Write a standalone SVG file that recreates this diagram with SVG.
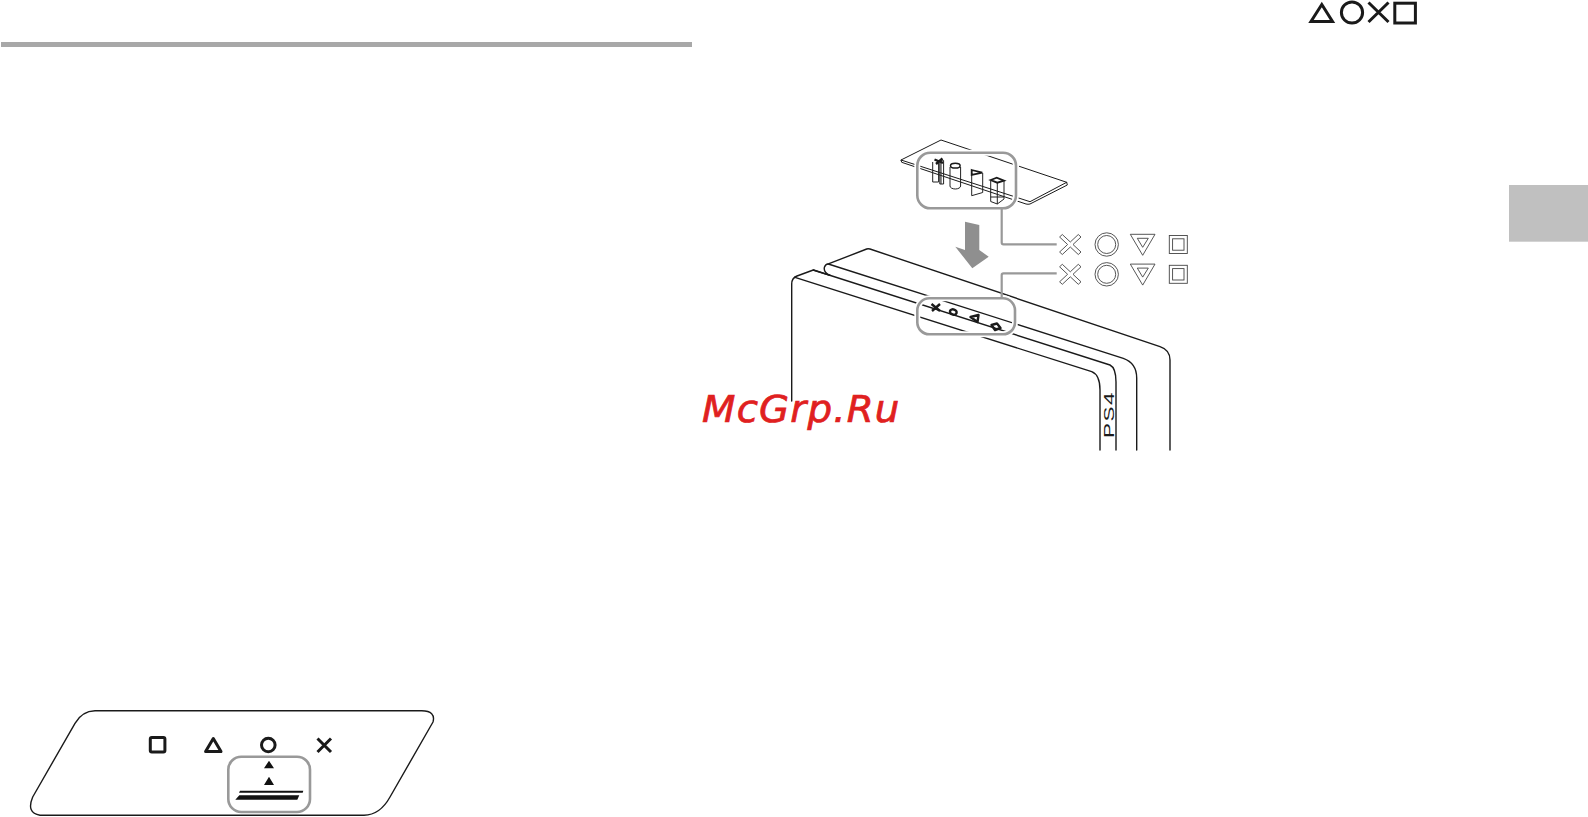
<svg xmlns="http://www.w3.org/2000/svg" width="1588" height="817" viewBox="0 0 1588 817">
<style>
.ln{fill:none;stroke:#1a1a1a;stroke-width:1.4;stroke-linejoin:round;stroke-linecap:round}
.pl{fill:none;stroke:#1a1a1a;stroke-width:1;stroke-linejoin:round;stroke-linecap:round}
.thin{fill:#fff;stroke:#444;stroke-width:.9;stroke-linejoin:miter}
.pin{fill:none;stroke:#222;stroke-width:1;stroke-linejoin:miter}
.box{fill:none;stroke:#999;stroke-width:2.6}
.halo{fill:none;stroke:#fff;stroke-width:6}
.conn{fill:none;stroke:#999;stroke-width:2.2;stroke-linejoin:round}
.sym{fill:none;stroke:#1a1a1a;stroke-width:3;stroke-linejoin:round}
.mini{fill:none;stroke:#1a1a1a;stroke-width:2.4;stroke-linejoin:round}
</style>
<rect width="1588" height="817" fill="#fff"/>
<rect id="top-rule" x="1" y="42" width="691" height="5" fill="#a8a8a8"/>
<rect id="side-tab" x="1509" y="185" width="79" height="56.7" fill="#c0c0c0"/>
<g id="title-symbols" fill="none" stroke="#1a1a1a" stroke-width="3">
<path d="M1321.8 4.5 L1332.5 21.4 H1311 Z"/>
<circle cx="1352" cy="12.5" r="10.6"/>
<path d="M1368.5 2.5 L1388.5 22 M1388.5 2.5 L1368.5 22"/>
<rect x="1394.8" y="3.2" width="20.6" height="19.8"/>
</g>
<g id="device">
<path class="ln" d="M791.7 401 V284 Q791.7 278 797 276 L813.3 270 L830 275.3"/>
<path class="ln" d="M795 277.3 L1091.7 371.7 Q1100 375 1100 390 V450"/>
<path class="ln" d="M813.3 270 L1110 365 Q1116 368 1116 382 V450"/>
<path class="ln" d="M830 275.3 Q823 272 824.5 267 Q825.5 264 829 263.7 L866.7 249 Q868 248.5 870 249 L1160 346.7 Q1170 350 1170 360 V450"/>
<path class="ln" d="M828.3 264 L1123.3 358.3 Q1136.7 363 1136.7 378 V450"/>
<text id="ps4-logo" transform="translate(1114 438) rotate(-90) scale(1.5 1)" font-family="'Liberation Sans',Arial,sans-serif" font-size="15" letter-spacing="1" fill="#1a1a1a">PS4</text>
</g>
<g id="device-callout">
<rect class="halo" x="917.3" y="298.3" width="97.7" height="36" rx="12"/>
<path class="mini" d="M931.5 304 L940 311 M940 304 L932 311"/>
<ellipse class="mini" cx="953.3" cy="312" rx="3.4" ry="2.6" transform="rotate(18 953.3 312)"/>
<path class="mini" d="M970.5 317 L978.5 315 L977.5 322 Z"/>
<path class="mini" d="M991.5 325 L997 323.5 L1000.5 328 L995 330 Z"/>
<rect class="box" x="917.3" y="298.3" width="97.7" height="36" rx="12"/>
</g>
<g id="plate">
<path class="pl" d="M901 160 L941 140 L1066.7 182.3 L1030 201.7 L901 160 L901.7 162.3 L1026 204 Q1028 204.5 1030 204 L1067.3 185 L1066.7 182.3"/>
<rect class="halo" x="917.3" y="152.7" width="98.7" height="55.6" rx="13"/>
<g id="pins">
<path class="pin" d="M932.7 162 V182 H938.6 V162 M938.6 162 L943.6 160.5 V184 H939.8 V163 M941 184 V160"/>
<path class="mini" stroke-width="2" d="M934.5 159.5 L943 163 M942.5 158.5 L936 164"/>
<path class="pin" d="M950 167 V186 A5.3 3 0 0 0 960.6 186 V167"/>
<ellipse cx="955.3" cy="165.7" rx="4.8" ry="2.4" fill="#fff" stroke="#1a1a1a" stroke-width="1.5"/>
<path class="pin" d="M971.7 175 V195.7 L982.7 192.5 V173"/>
<path d="M971.7 170 L982.3 172.7 L971.7 175 Z" fill="#fff" stroke="#1a1a1a" stroke-width="1.8"/>
<path class="pin" d="M990.7 181 V201.5 L997.3 204 L1004 199 V181 M997.3 183 V204 M990.7 197 L1004 197"/>
<path d="M990.7 180 L996.7 177.7 L1004 180.7 L997.3 182.7 Z" fill="#fff" stroke="#1a1a1a" stroke-width="1.8"/>
</g>
<rect class="box" x="917.3" y="152.7" width="98.7" height="55.6" rx="13"/>
</g>
<g id="down-arrow"><path d="M965 221.7 L979.3 225 V250 L988.7 256.7 L972.3 268.3 L955.3 246.7 L965 250 Z" fill="#8f8f8f"/></g>
<g id="connectors">
<path class="conn" d="M1001.7 208 V242.5 Q1001.7 244.3 1003.5 244.3 H1056.7"/>
<path class="conn" d="M1056.7 273.3 H1003.5 Q1001.7 273.3 1001.7 275 V298"/>
</g>
<defs>
<g id="sym-row">
<path class="thin" d="M1062.3 234.5 L1070.3 242 L1078.3 234.5 L1081 237 L1073 244.5 L1081 252 L1078.3 254.5 L1070.3 247 L1062.3 254.5 L1059.6 252 L1067.6 244.5 L1059.6 237 Z"/>
<circle class="thin" cx="1106.7" cy="244.5" r="11.7"/>
<circle class="thin" cx="1106.7" cy="244.5" r="9"/>
<path class="thin" d="M1130.3 234.3 H1155 L1142.7 255.3 Z"/>
<path class="thin" d="M1137.3 238.3 H1148.3 L1142.7 247.3 Z"/>
<rect class="thin" x="1169.3" y="235.5" width="18" height="18"/>
<rect class="thin" x="1172.6" y="238.8" width="11.4" height="11.4"/>
</g>
</defs>
<g id="symbols-upper"><use href="#sym-row"/></g>
<g id="symbols-lower"><use href="#sym-row" y="29.8"/></g>
<g id="panel">
<path class="ln" stroke-width="1.6" d="M95 710.7 H421.7 Q436 711 433 722 L390 797 Q380 815 364 815.3 H40 Q26 813 32.7 797 L75 723.3 Q82 711 95 710.7 Z"/>
<rect class="sym" x="150.3" y="737.6" width="14.6" height="14.4" rx="1.5"/>
<path class="sym" d="M213.3 738.5 L221 751.6 H205.6 Z"/>
<circle class="sym" cx="268.3" cy="745" r="6.8"/>
<path class="sym" d="M317.5 738.5 L331 752 M331 738.5 L317.5 752"/>
<rect class="box" x="228.3" y="756.7" width="81.7" height="55.3" rx="13"/>
<path d="M269 760.7 L274 768.3 H264 Z M269 776.7 L274 785 H264 Z M240 790.7 H303.3 L302.7 792.7 H239 Z M239.3 795.3 H299.3 L297.3 799.7 H235.3 Z" fill="#111"/>
</g>
<text id="watermark" transform="translate(702 422.3) scale(1.06 1)" font-family="'DejaVu Sans',sans-serif" font-style="oblique" font-size="36.6" letter-spacing="1.1" fill="#e02020" stroke="#e02020" stroke-width=".7">McGrp.Ru</text>
</svg>
